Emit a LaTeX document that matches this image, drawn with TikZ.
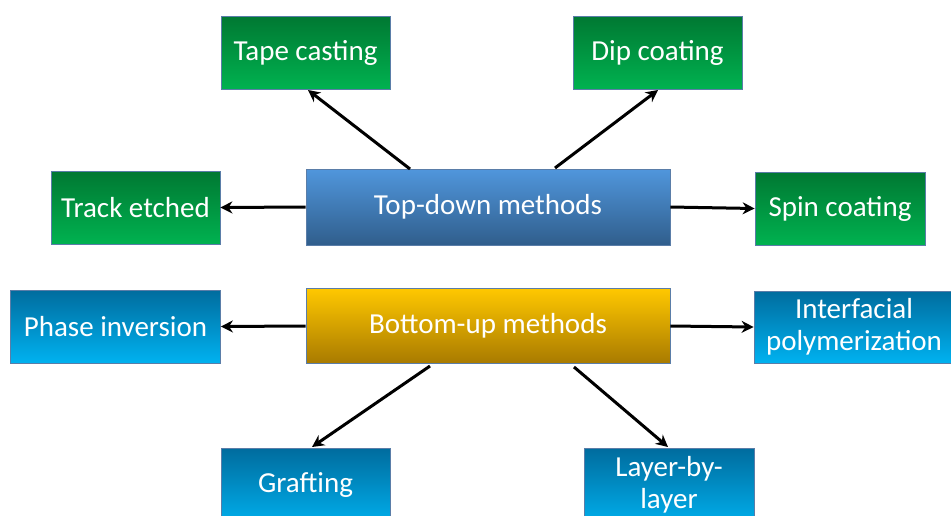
\documentclass[tikz,border=0pt]{standalone}
\usepackage{fontspec}
\setmainfont{Carlito}
\usetikzlibrary{arrows.meta}
\definecolor{edgec}{HTML}{5A7DA8}
\tikzset{
  boxfont/.style={font=\fontsize{29}{32}\selectfont},
  box/.style={draw=edgec, line width=0.8pt, rectangle, inner sep=0pt, text=white,
    boxfont, align=center},
  greenbox/.style={box, top color={rgb,255:red,0;green,120;blue,50}, bottom color={rgb,255:red,0;green,178;blue,80}},
  cyanbox/.style={box, top color={rgb,255:red,0;green,108;blue,158}, bottom color={rgb,255:red,0;green,178;blue,240}},
  bluebox/.style={box, top color={rgb,255:red,80;green,150;blue,220}, bottom color={rgb,255:red,48;green,94;blue,140}},
  goldbox/.style={box, top color={rgb,255:red,255;green,200;blue,0}, bottom color={rgb,255:red,168;green,122;blue,0}},
  arr/.style={-{Stealth[length=12pt,width=12pt]}, line width=3pt, black}
}
\begin{document}
\begin{tikzpicture}[x=1pt,y=-1pt]
\useasboundingbox (0,0) rectangle (951,515);
\clip (0,0) rectangle (951,515);
% boxes
\node[greenbox, minimum width=169pt, minimum height=73pt] (tape) at (305.5,52.5) {Tape casting};
\node[greenbox, minimum width=169pt, minimum height=73pt] (dip) at (657.5,52.5) {Dip coating};
\node[greenbox, minimum width=169pt, minimum height=73pt] (track) at (135.5,207.5) {Track etched};
\node[greenbox, minimum width=170pt, minimum height=73pt] (spin) at (840,208.5) {Spin coating};
\node[bluebox, minimum width=364pt, minimum height=76pt] (top) at (488,207) {Top-down methods};
\node[goldbox, minimum width=364pt, minimum height=75pt] (bot) at (488,326) {Bottom-up methods};
\node[cyanbox, minimum width=210pt, minimum height=73pt] (phase) at (115.5,326.5) {Phase inversion};
\node[cyanbox, minimum width=200pt, minimum height=72pt, text width=200pt] (inter) at (854,327) {Interfacial\\polymerization};
\node[cyanbox, minimum width=169pt, minimum height=80pt, anchor=north] (graft) at (305.5,448) {};
\node[white, boxfont] (grafttxt) at (305.5,485) {Grafting};
\node[cyanbox, minimum width=170pt, minimum height=80pt, anchor=north] (layer) at (669,448) {};
\node[white, boxfont, align=center] (layertxt) at (669,485) {Layer-by-\\layer};
% arrows
\coordinate (t1) at (410,169);
\coordinate (t2) at (555,168);
\coordinate (e1) at (308,90);
\coordinate (e2) at (658,90);
\draw[arr] (t1) -- (e1);
\draw[arr] (t2) -- (e2);
\draw[arr] (top.west) -- (track.east);
\draw[arr] (top.east) -- (spin.west);
\draw[arr] (bot.west) -- (phase.east);
\draw[arr] (bot.east) -- (inter.west);
\coordinate (b1) at (430,366);
\coordinate (b2) at (574,367);
\coordinate (f1) at (312,447);
\coordinate (f2) at (668,447);
\draw[arr] (b1) -- (f1);
\draw[arr] (b2) -- (f2);
\end{tikzpicture}
\end{document}
